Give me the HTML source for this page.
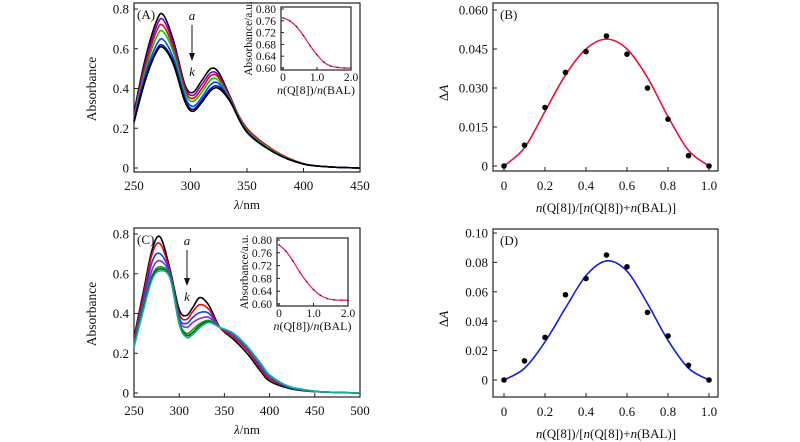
<!DOCTYPE html>
<html><head><meta charset="utf-8">
<style>
html,body{margin:0;padding:0;background:#fff;}
svg{display:block;font-family:"Liberation Serif","Times New Roman",serif;}
svg text{font-family:"Liberation Serif","Times New Roman",serif;}
</style></head>
<body>
<svg id="fig" width="800" height="442" viewBox="0 0 800 442" xmlns="http://www.w3.org/2000/svg"></svg>
<script>
// ---------- DATA ----------
const wlA = [250,260,270,276,285,295,302,310,318,325,335,350,375,400,425,450];
const specA_a = [.28,.55,.74,.77,.64,.42,.38,.44,.50,.48,.36,.19,.08,.02,.005,0];
const specA_b = [.27,.53,.715,.745,.62,.41,.365,.42,.48,.465,.355,.19,.08,.02,.005,0];
const specA_c = [.26,.51,.69,.715,.60,.395,.35,.40,.465,.455,.35,.20,.085,.022,.005,0];
const specA_d = [.25,.49,.66,.685,.58,.38,.335,.38,.445,.44,.345,.19,.08,.02,.005,0];
const specA_e = [.245,.47,.62,.645,.55,.36,.31,.355,.42,.425,.34,.185,.075,.02,.005,0];
const specA_f = [.235,.45,.595,.615,.53,.345,.295,.34,.40,.41,.34,.18,.075,.02,.005,0];
const specA_k = [.23,.44,.585,.605,.52,.335,.285,.33,.39,.40,.335,.18,.075,.02,.005,0];
const colorsA = ["#000","#7a00d0","#f00010","#00d000","#1040ff","#0010a0","#000"];

const wlC = [250,260,270,279,290,300,308,315,323,333,345,360,375,390,400,420,440,460,500];
const specC_a = [.28,.50,.72,.785,.62,.42,.39,.43,.48,.44,.33,.27,.20,.11,.06,.025,.01,.005,0];
const specC_b = [.27,.48,.70,.75,.61,.40,.37,.41,.445,.42,.33,.28,.215,.12,.07,.03,.012,.005,0];
const specC_c = [.26,.46,.66,.70,.60,.38,.35,.38,.405,.40,.33,.29,.225,.13,.08,.03,.012,.005,0];
const specC_d = [.25,.44,.62,.665,.59,.37,.33,.355,.375,.38,.33,.295,.23,.14,.085,.035,.013,.005,0];
const specC_e = [.24,.43,.59,.635,.585,.36,.30,.32,.35,.365,.33,.30,.235,.145,.09,.035,.015,.005,0];
const specC_f = [.235,.42,.58,.625,.58,.35,.29,.305,.34,.36,.33,.30,.235,.15,.09,.035,.015,.005,0];
const specC_k = [.23,.41,.57,.615,.575,.345,.28,.295,.33,.355,.33,.30,.235,.15,.09,.035,.015,.005,0];
const colorsC = ["#000","#f00010","#1040ff","#9a20f0","#10a010","#006000","#10b0a0"];

const insetX = [0,0.2,0.4,0.6,0.8,1.0,1.2,1.4,1.6,1.8,2.0];
const insetA = [.77,.76,.74,.71,.675,.645,.62,.607,.602,.600,.600];
const insetC = [.785,.765,.735,.70,.67,.645,.627,.617,.613,.612,.612];

const jobX = [0,0.1,0.2,0.3,0.4,0.5,0.6,0.7,0.8,0.9,1.0];
const jobB = [0,.008,.0225,.036,.044,.050,.043,.030,.018,.004,0];
const fitB = [0,.007,.021,.035,.045,.0488,.045,.034,.019,.006,0];
const jobD = [0,.013,.029,.058,.069,.085,.077,.046,.030,.010,0];
const fitD = [0,.008,.026,.049,.071,.081,.074,.052,.027,.008,0];

const ticksA_x = ["250","300","350","400","450"];
const ticksC_x = ["250","300","350","400","450","500"];
const ticksAbs = ["0","0.2","0.4","0.6","0.8"];
const ticksInsetY = ["0.60","0.64","0.68","0.72","0.76","0.80"];
const ticksInsetX = ["0","1.0","2.0"];
const ticksB_y = ["0","0.015","0.030","0.045","0.060"];
const ticksD_y = ["0","0.02","0.04","0.06","0.08","0.10"];
const ticksJob_x = ["0","0.2","0.4","0.6","0.8","1.0"];

// ---------- HELPERS ----------
const NS = "http://www.w3.org/2000/svg";
const svg = document.getElementById("fig");
function mk(tag, attrs, parent){
  const e = document.createElementNS(NS, tag);
  for (const k in attrs) e.setAttribute(k, attrs[k]);
  (parent||svg).appendChild(e);
  return e;
}
function scale(d0,d1,r0,r1){return v => r0 + (v-d0)/(d1-d0)*(r1-r0);}
function smoothPath(pts){
  let d = "M"+pts[0][0].toFixed(2)+","+pts[0][1].toFixed(2);
  for (let i=0;i<pts.length-1;i++){
    const p0=pts[Math.max(0,i-1)],p1=pts[i],p2=pts[i+1],p3=pts[Math.min(pts.length-1,i+2)];
    const c1=[p1[0]+(p2[0]-p0[0])/6,p1[1]+(p2[1]-p0[1])/6];
    const c2=[p2[0]-(p3[0]-p1[0])/6,p2[1]-(p3[1]-p1[1])/6];
    d+=" C"+c1[0].toFixed(2)+","+c1[1].toFixed(2)+" "+c2[0].toFixed(2)+","+c2[1].toFixed(2)+" "+p2[0].toFixed(2)+","+p2[1].toFixed(2);
  }
  return d;
}
function txt(x,y,s,size,anchor,parent,extra){
  const t = mk("text",Object.assign({x:x,y:y,"font-size":size,"text-anchor":anchor||"middle",fill:"#111","font-family":"Liberation Serif, Times New Roman, serif"},extra||{}),parent);
  t.innerHTML = s;
  return t;
}
function axesBox(g,x0,y0,x1,y1){
  mk("rect",{x:x0,y:y0,width:x1-x0,height:y1-y0,fill:"none",stroke:"#222","stroke-width":1.2},g);
}
function yTicks(g,labels,vals,ys,xl,xr,size,tl){
  labels.forEach((lab,i)=>{
    const y=ys(vals[i]);
    mk("line",{x1:xl,y1:y,x2:xl+tl,y2:y,stroke:"#222","stroke-width":1},g);
    txt(xl-5,y+size*0.35,lab,size,"end",g);
  });
}
function xTicks(g,labels,vals,xs,yb,size,tl,dy){
  labels.forEach((lab,i)=>{
    const x=xs(vals[i]);
    mk("line",{x1:x,y1:yb,x2:x,y2:yb-tl,stroke:"#222","stroke-width":1},g);
    txt(x,yb+dy,lab,size,"middle",g);
  });
}
const xlabelNBAL = '<tspan font-style="italic">n</tspan>(Q[8])/<tspan font-style="italic">n</tspan>(BAL)';
const xlabelJob = '<tspan font-style="italic">n</tspan>(Q[8])/[<tspan font-style="italic">n</tspan>(Q[8])+<tspan font-style="italic">n</tspan>(BAL)]';

// ---------- SPECTRA PANEL ----------
function spectraPanel(name,letter,top,wl,series,colors,xmax,tickX,insetY,insetBox){
  const g = mk("g",{});
  
  
  const x0=134,x1=360,yTop=top,yBot=top+169;
  const xs = scale(250,xmax,x0,x1);
  const ys = scale(0,0.8,top+165,top+6);
  axesBox(g,x0,yTop,x1,yBot);
  series.forEach((s,i)=>{
    const p = mk("path",{d:smoothPath(wl.map((w,j)=>[xs(w),ys(s[j])])),fill:"none",stroke:colors[i],"stroke-width":1.6},g);
    
    
  });
  yTicks(g,ticksAbs,ticksAbs.map(Number),ys,x0,x1,13,4);
  xTicks(g,tickX,tickX.map(Number),xs,yBot,13,4,18);
  const yl = txt(96,top+86,"Absorbance",13.5,"middle",g,{transform:"rotate(-90 96 "+(top+86)+")"});
  
  
  const xl = txt(247,top+206,'<tspan font-style="italic">λ</tspan>/nm',13,"middle",g);
  
  
  txt(137,top+16,"("+letter+")",13,"start",g);
  const ax = letter==="A"?192:187;
  txt(ax,top+17,"a",13,"middle",g,{"font-style":"italic"});
  mk("line",{x1:ax,y1:top+22,x2:ax,y2:top+55,stroke:"#111","stroke-width":1},g);
  mk("path",{d:"M"+(ax-3)+","+(top+50)+" L"+ax+","+(top+58)+" L"+(ax+3)+","+(top+50)+"Z",fill:"#111"},g);
  txt(ax,top+73,"k",13,"middle",g,{"font-style":"italic"});
  const ig = mk("g",{},g);
  
  
  const [ix0,iy0,ix1,iy1] = insetBox;
  const ixs = scale(0,2,ix0+2,ix1);
  const iys = scale(0.60,0.80,iy1-2,iy0+2);
  axesBox(ig,ix0,iy0,ix1,iy1);
  mk("path",{d:smoothPath(insetX.map((v,j)=>[ixs(v),iys(insetY[j])])),fill:"none",stroke:"#f0205a","stroke-width":1.3},ig);
  insetX.forEach((v,j)=>mk("circle",{cx:ixs(v),cy:iys(insetY[j]),r:0.8,fill:"#222"},ig));
  yTicks(ig,ticksInsetY,ticksInsetY.map(Number),iys,ix0,ix1,11.5,3);
  xTicks(ig,ticksInsetX,ticksInsetX.map(Number),ixs,iy1,11.5,3,11);
  txt(ix0-29,(iy0+iy1)/2,"Absorbance/a.u.",11.5,"middle",ig,{transform:"rotate(-90 "+(ix0-29)+" "+((iy0+iy1)/2)+")"});
  txt((ix0+ix1)/2,iy1+24,xlabelNBAL,12,"middle",ig);
}
spectraPanel("spectra-panel-a","A",3,wlA,[specA_a,specA_b,specA_c,specA_d,specA_e,specA_f,specA_k],colorsA,450,ticksA_x,insetA,[281,7,351,70]);
spectraPanel("spectra-panel-c","C",228,wlC,[specC_a,specC_b,specC_c,specC_d,specC_e,specC_f,specC_k],colorsC,500,ticksC_x,insetC,[277,238,348,306]);

// ---------- JOB PLOTS ----------
function jobPanel(name,letter,top,ymax,yTickLabels,pts,fit,color,y0px,ymaxpx){
  const g = mk("g",{});
  
  
  const x0=493,x1=718,yTop=top,yBot=top+168;
  const xs = scale(0,1,504,709);
  const ys = scale(0,ymax,y0px,ymaxpx);
  axesBox(g,x0,yTop,x1,yBot);
  const fp = mk("path",{d:smoothPath(jobX.map((v,j)=>[xs(v),ys(fit[j])])),fill:"none",stroke:color,"stroke-width":1.6},g);
  
  
  pts.forEach((v,j)=>{
    const c = mk("circle",{cx:xs(jobX[j]),cy:ys(v),r:2.8,fill:"#000"},g);
    
    
  });
  yTicks(g,yTickLabels,yTickLabels.map(Number),ys,x0,x1,13,4);
  xTicks(g,ticksJob_x,ticksJob_x.map(Number),xs,yBot,13,4,19);
  txt(500,top+16,"("+letter+")",13,"start",g);
  const yl = txt(448,top+90,'Δ<tspan font-style="italic">A</tspan>',13,"middle",g,{transform:"rotate(-90 448 "+(top+90)+")"});
  
  
  const xl = txt(606,top+209,xlabelJob,13,"middle",g);
  
  
}
jobPanel("job-plot-b","B",3,0.060,ticksB_y,jobB,fitB,"#e8103a",166,10);
jobPanel("job-plot-d","D",229,0.10,ticksD_y,jobD,fitD,"#1020e0",380,233);
</script>
</body></html>
